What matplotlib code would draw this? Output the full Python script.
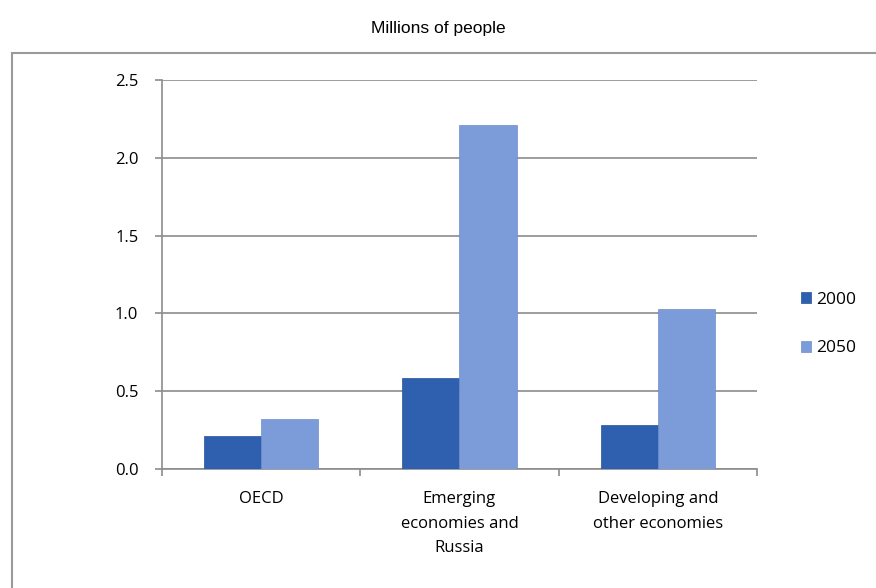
import matplotlib.pyplot as plt
import matplotlib.patches as mpatches
import numpy as np

categories = ["OECD", "Emerging\neconomies and\nRussia", "Developing and\nother economies"]
years = ["2000", "2050"]
values_2000 = [0.21, 0.585, 0.28]
values_2050 = [0.32, 2.21, 1.03]
yticks = [0.0, 0.5, 1.0, 1.5, 2.0, 2.5]

W, H = 876, 588
fig = plt.figure(figsize=(W / 100, H / 100), dpi=100)

# outer chart frame (runs off right/bottom edges)
fig.patches.append(mpatches.Rectangle((12 / W, -0.05), 1.0, 1 - 53 / H + 0.05,
                                      transform=fig.transFigure, fill=False,
                                      edgecolor="#9a9a9a", linewidth=1.5))

fig.text(0.5, 1 - 28 / H, "Millions of people", ha="center", va="center",
         fontsize=12.5, family="Liberation Sans")

ax = fig.add_axes([162 / W, 1 - 469 / H, (757 - 162) / W, (469 - 80) / H])

x = np.arange(len(categories))
w = 0.288
ax.bar(x - w / 2, values_2000, w, color="#2f5faf", edgecolor="#27529a", linewidth=0.5, label=years[0], zorder=3)
ax.bar(x + w / 2, values_2050, w, color="#7c9bd9", edgecolor="#6f8ccb", linewidth=0.5, label=years[1], zorder=3)

ax.set_xlim(-0.5, 2.5)
ax.set_ylim(0, 2.5)
ax.set_yticks(yticks)
ax.set_yticklabels([f"{v:.1f}" for v in yticks], family="Open Sans", fontsize=12)
ax.yaxis.grid(True, color="#8c8c8c", linewidth=1.2, zorder=0)
ax.set_axisbelow(True)

ax.set_xticks([-0.5, 0.5, 1.5, 2.5], minor=False)
ax.set_xticklabels([])
ax.set_xticks(x, minor=True)
ax.set_xticklabels(categories, minor=True, family="Open Sans", fontsize=12, linespacing=1.7, va="top")
ax.tick_params(axis="x", which="minor", length=0, pad=16)
ax.tick_params(axis="x", which="major", length=5, color="#8c8c8c", width=1.2)
ax.tick_params(axis="y", length=5, color="#8c8c8c", width=1.2, pad=12)

for s in ["top", "right"]:
    ax.spines[s].set_visible(False)
for s in ["left", "bottom"]:
    ax.spines[s].set_color("#8c8c8c")
    ax.spines[s].set_linewidth(1.2)

ax.legend(loc="center left", bbox_to_anchor=(785 / W, 1 - 324 / H), bbox_transform=fig.transFigure,
          frameon=False, prop={"family": "Open Sans", "size": 12.5}, handlelength=0.6, handleheight=0.6,
          handletextpad=0.3, labelspacing=1.9)

fig.savefig("out.png", dpi=100)
